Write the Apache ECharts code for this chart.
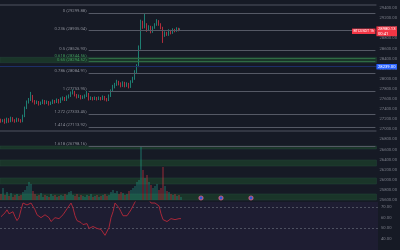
<!DOCTYPE html>
<html>
<head>
<meta charset="utf-8">
<script src="https://cdn.jsdelivr.net/npm/echarts@6/dist/echarts.min.js"></script>
<style>
  html, body { margin: 0; padding: 0; background: #161a25; }
  #chart { width: 400px; height: 250px; }
</style>
</head>
<body>
<div id="chart"></div>
<script>
// candles, one per slot (2px each)
const openP = [27180,27160,27180,27140,27200,27160,27220,27180,27160,27200,
  27180,27160,27260,27420,27540,27580,27660,27560,27520,27540,
  27500,27520,27560,27520,27540,27500,27520,27560,27540,27580,
  27540,27600,27620,27580,27640,27660,27720,27740,27680,27640,
  27660,27620,27640,27660,27700,27600,27620,27600,27620,27600,
  27620,27600,27640,27600,27580,27660,27760,27840,27880,27940,
  27900,27860,27920,27860,27900,27840,27940,28000,28130,28250,
  28610,29120,29030,29080,28970,29030,28930,29010,29070,29140,
  29080,29010,28850,28910,28870,28950,28910,28970,28950,28990,
  28970]
const closeP = [27160,27180,27140,27200,27160,27220,27180,27160,27200,27180,
  27160,27260,27420,27540,27580,27660,27560,27520,27540,27500,
  27520,27560,27520,27540,27500,27520,27560,27540,27580,27540,
  27600,27620,27580,27640,27660,27720,27740,27680,27640,27660,
  27620,27640,27660,27700,27600,27620,27600,27620,27600,27620,
  27600,27640,27600,27580,27660,27760,27840,27880,27940,27900,
  27860,27920,27860,27900,27840,27940,28000,28130,28250,28610,
  29120,29030,29080,28970,29030,28930,29010,29070,29140,29080,
  29010,28850,28910,28870,28950,28910,28970,28950,28990,28970,
  28980]
const lowP = [27130,27140,27110,27120,27130,27140,27150,27130,27140,27150,
  27130,27140,27240,27400,27510,27560,27530,27490,27500,27470,
  27480,27500,27490,27500,27470,27480,27500,27510,27520,27510,
  27520,27570,27560,27560,27610,27640,27690,27650,27610,27620,
  27590,27600,27610,27640,27570,27580,27570,27580,27570,27580,
  27570,27580,27570,27550,27560,27640,27740,27810,27860,27870,
  27830,27840,27830,27840,27810,27820,27920,27980,28110,28230,
  28580,28990,29000,28930,28950,28900,28910,28990,29050,29050,
  28980,28710,28830,28850,28850,28880,28890,28920,28930,28940,
  28950]
const highP = [27210,27200,27210,27230,27220,27250,27240,27200,27230,27220,
  27200,27290,27450,27570,27620,27740,27680,27580,27570,27560,
  27550,27590,27580,27570,27560,27550,27590,27580,27610,27600,
  27630,27650,27640,27670,27690,27750,27790,27760,27700,27690,
  27680,27670,27690,27760,27720,27650,27640,27650,27640,27650,
  27640,27670,27660,27620,27690,27790,27880,27920,27980,27960,
  27930,27950,27940,27930,27920,27970,28040,28170,28290,28660,
  29170,29150,29297,29100,29060,29050,29040,29100,29180,29160,
  29100,29030,28940,28930,28980,28970,29000,28990,29020,29010,
  29000]
const volumes = [600,1200,500,800,400,700,300,500,600,400,
  500,800,1000,1400,1800,1600,900,600,400,500,
  700,300,500,400,300,600,400,500,300,400,
  500,400,600,500,800,900,500,400,600,300,
  500,400,300,500,400,600,300,400,500,300,
  400,500,600,400,500,800,1000,700,900,600,
  800,700,500,600,900,1000,1200,1400,1800,2000,
  5300,3000,2200,2500,1800,1500,1200,1400,1600,1000,
  1200,3300,1400,900,800,600,500,600,400,500,
  300]
const rsiValues = [60.9,60.0,64.5,67.3,63.6,63.6,65.5,60.9,57.3,60.0,
  67.3,73.6,74.5,71.8,72.7,73.6,74.5,67.3,62.7,60.9,
  60.0,61.8,62.7,60.9,60.0,56.4,57.3,60.0,58.2,59.1,
  60.9,62.7,64.5,68.2,70.0,73.6,69.1,61.8,57.3,56.4,
  55.5,53.6,54.5,54.5,50.0,50.0,51.8,50.0,50.0,50.9,
  49.1,47.3,43.6,42.7,50.9,60.0,65.5,73.6,72.7,69.1,
  65.5,61.8,60.0,61.8,64.5,67.3,70.9,74.5,77.3,80.9,
  90.0,87.3,85.5,81.8,76.4,73.6,71.8,73.6,74.5,70.9,
  63.6,58.2,57.3,56.4,56.4,59.1,57.3,58.2,60.0,59.1,
  59.1]

// fibonacci retracement
const fibLevels = ['0', '0.236', '0.5', '0.618', '0.65', '0.786', '1', '1.272', '1.414', '1.618']
const fibLabels = ['29299.88', '28935.04', '28526.93', '28344.56', '28294.52', '28084.91', '27753.95', '27333.45', '27113.92', '26798.16']
const fibPrices = [29297, 28952, 28556, 28412, 28342, 28109, 27758, 27297, 27039, 26669]
const pocketLevels = ['0.618', '0.65']
const zoneBands = [[28425, 28319], [26669, 26610], [26392, 26273], [26036, 25917], [25719, 25600]]
const borderLines = [29461, 26966]
const blueLevel = 28239
const dashedLevel = 28255
const lastPrice = 28980
const lastPriceText = '28980.13\n00:41'
const eventSlots = [100, 110, 125]
const rsiBands = [70, 50]

const slotCount = 189
const slots = Array.from({ length: slotCount }, (_, i) => String(i))
const fibStart = 44
const fibEnd = slotCount - 1

const UP = '#22ab94'
const DOWN = '#f23645'
const font = 'Roboto'

const candles = closeP.map((c, i) => [openP[i], c, lowP[i], highP[i]])
const volumeBars = volumes.map((v, i) => ({
  value: v,
  itemStyle: { color: closeP[i] >= openP[i] ? 'rgba(34,171,148,0.5)' : 'rgba(242,54,69,0.5)' },
}))

function fibLine(lvl, i) {
  const green = pocketLevels.includes(lvl)
  return [
    {
      coord: [fibStart, fibPrices[i]],
      lineStyle: { color: green ? '#2f6b44' : '#555965', width: 1, type: 'solid' },
      label: {
        show: true,
        position: 'start',
        distance: 2,
        formatter: lvl + ' (' + fibLabels[i] + ')',
        color: green ? '#3f9a5a' : '#8a8d97',
        fontSize: 4.2,
        fontFamily: font,
        offset: [0, -2],
      },
    },
    { coord: [fibEnd, fibPrices[i]] },
  ]
}

const tagLabel = (text, bg) => ({
  show: true,
  position: 'end',
  distance: 0,
  formatter: text,
  backgroundColor: bg,
  color: '#ffffff',
  fontSize: 4.2,
  lineHeight: 4.4,
  fontFamily: font,
  padding: [0.5, 1.5, 0.5, 1.5],
})

const markLines = [
  ...fibLevels.map(fibLine),
  ...borderLines.map((v) => ({ yAxis: v, lineStyle: { color: '#3d414c', width: 1.5, type: 'solid' } })),
  [
    { coord: [71, dashedLevel], lineStyle: { color: '#5d616c', width: 1, type: [2, 2] } },
    { coord: [99, dashedLevel] },
  ],
  {
    yAxis: blueLevel,
    lineStyle: { color: '#1d2f66', width: 1, type: 'solid' },
    label: tagLabel(blueLevel.toFixed(2), '#2962ff'),
  },
  {
    yAxis: lastPrice,
    lineStyle: { color: 'rgba(0,0,0,0)' },
    label: Object.assign(tagLabel(lastPriceText, DOWN), { offset: [0, 2] }),
  },
  {
    yAxis: lastPrice,
    lineStyle: { color: 'rgba(0,0,0,0)' },
    label: Object.assign(tagLabel('BTCUSDT 1h', DOWN), {
      position: 'insideEnd',
      distance: 1,
      verticalAlign: 'middle',
      offset: [0, 2],
      fontSize: 3.6,
    }),
  },
]

const chart = echarts.init(document.getElementById('chart'))

chart.setOption({
  backgroundColor: '#161a25',
  animation: false,
  grid: [
    { left: 0, right: 22, top: 0, bottom: 50 },
    { left: 0, right: 22, top: 145, bottom: 50 },
    { left: 0, right: 22, top: 202, height: 49, show: true, backgroundColor: '#1e1d32', borderWidth: 0 },
  ],
  xAxis: [0, 1, 2].map((g) => ({
    type: 'category',
    gridIndex: g,
    data: slots,
    show: false,
    boundaryGap: true,
  })),
  yAxis: [
    {
      type: 'value',
      gridIndex: 0,
      position: 'right',
      min: 25600,
      max: 29560,
      interval: 200,
      splitLine: { show: false },
      axisLine: { show: false },
      axisTick: { show: false },
      axisLabel: {
        color: '#7b7e89',
        fontSize: 4.2,
        fontFamily: font,
        margin: 3,
        showMaxLabel: false,
        formatter: (v) => v.toFixed(2),
      },
    },
    { type: 'value', gridIndex: 1, min: 0, max: 5500, show: false },
    {
      type: 'value',
      gridIndex: 2,
      position: 'right',
      min: 30,
      max: 74.55,
      interval: 10,
      splitLine: { show: false },
      axisLine: { show: false },
      axisTick: { show: false },
      axisLabel: {
        color: '#7b7e89',
        fontSize: 4.2,
        fontFamily: font,
        margin: 3,
        showMaxLabel: false,
        showMinLabel: false,
        formatter: (v) => v.toFixed(2),
      },
    },
  ],
  series: [
    {
      name: 'price',
      type: 'candlestick',
      xAxisIndex: 0,
      yAxisIndex: 0,
      data: candles,
      barWidth: 0.8,
      z: 3,
      itemStyle: {
        color: UP,
        color0: DOWN,
        borderColor: UP,
        borderColor0: DOWN,
        borderWidth: 0.7,
      },
      markArea: {
        silent: true,
        itemStyle: { color: '#1a3529', borderColor: '#24463a', borderWidth: 0.5 },
        data: zoneBands.map(([a, b]) => [{ yAxis: a }, { yAxis: b }]),
      },
      markLine: {
        silent: true,
        symbol: 'none',
        label: { show: false },
        data: markLines,
      },
    },
    {
      name: 'volume',
      type: 'bar',
      xAxisIndex: 1,
      yAxisIndex: 1,
      data: volumeBars,
      barWidth: 1.2,
      z: 4,
    },
    {
      name: 'events',
      type: 'scatter',
      xAxisIndex: 1,
      yAxisIndex: 1,
      data: eventSlots.map((s) => [s, 200]),
      symbolSize: 4,
      z: 6,
      itemStyle: { color: '#2f62ff', borderColor: '#e0607e', borderWidth: 1.2 },
    },
    {
      name: 'RSI',
      type: 'line',
      xAxisIndex: 2,
      yAxisIndex: 2,
      data: rsiValues,
      showSymbol: false,
      lineStyle: { color: '#a8283a', width: 1 },
      z: 5,
      markLine: {
        silent: true,
        symbol: 'none',
        label: { show: false },
        lineStyle: { color: '#4d5060', width: 1, type: [2, 2] },
        data: rsiBands.map((v) => ({ yAxis: v })),
      },
    },
  ],
})
</script>
</body>
</html>
